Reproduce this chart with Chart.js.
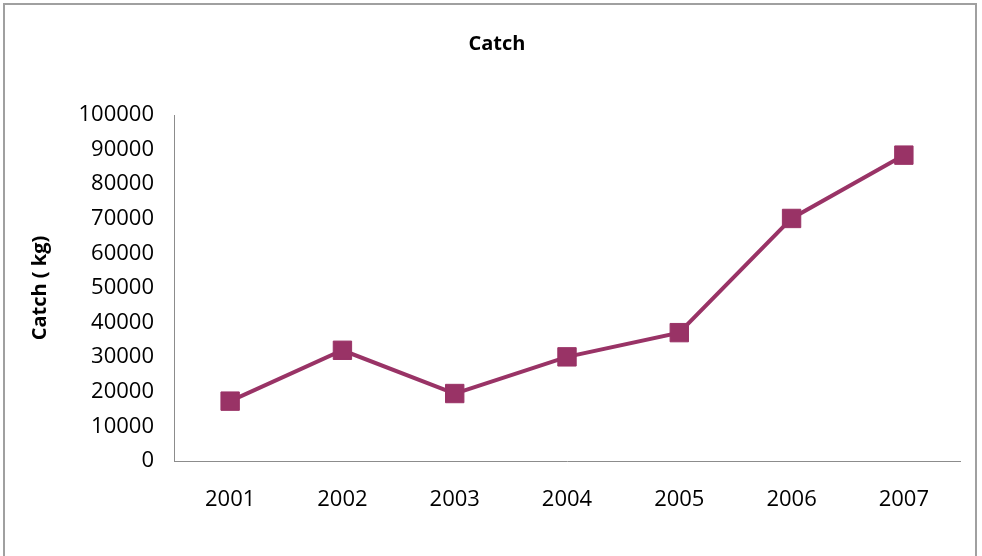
<!DOCTYPE html>
<html>
<head>
<meta charset="utf-8">
<script src="https://cdn.jsdelivr.net/npm/chart.js@4"></script>
<style>
  html, body { margin: 0; padding: 0; background: #fff; }
  #frame {
    position: absolute; left: 3px; top: 3px; width: 974px; height: 600px;
    border: 2px solid #a0a0a0; box-sizing: border-box;
  }
  #catchChart { position: absolute; left: 0; top: 0; }
</style>
</head>
<body>
<div id="frame"></div>
<canvas id="catchChart" width="982" height="556"></canvas>
<script>
const years = ['2001', '2002', '2003', '2004', '2005', '2006', '2007'];
const catchKg = [17300, 32000, 19500, 30100, 37100, 70100, 88400];
const yMin = 0;
const yMax = 100000;
const yStep = 10000;

const lineColor = '#993366';
const axisColor = '#8c8c8c';
const fontFamily = '"Open Sans", "Noto Sans", sans-serif';

const ctx = document.getElementById('catchChart').getContext('2d');

const myChart = new Chart(ctx, {
    type: 'line',
    data: {
        labels: years,
        datasets: [{
            label: 'Catch',
            data: catchKg,
            borderColor: lineColor,
            backgroundColor: lineColor,
            borderWidth: 4,
            tension: 0,
            pointStyle: 'rect',
            pointRadius: 13,
            pointBorderWidth: 1,
            pointBorderColor: lineColor,
            pointBackgroundColor: lineColor
        }]
    },
    options: {
        responsive: false,
        animation: false,
        // left padding shifts the title centre to match the original
        layout: { padding: { left: 12, right: 0, top: 0, bottom: 0 } },
        plugins: {
            legend: { display: false },
            tooltip: { enabled: false },
            title: {
                display: true,
                text: 'Catch',
                color: '#000',
                font: { family: fontFamily, size: 20, weight: 'bold', lineHeight: 1.2 },
                padding: { top: 32, bottom: 59 }
            }
        },
        scales: {
            x: {
                offset: true,
                grid: { display: false, drawTicks: false },
                border: { display: true, color: axisColor, width: 1 },
                ticks: {
                    color: '#000',
                    padding: 26,
                    font: { family: fontFamily, size: 22 }
                },
                afterFit: scale => { scale.height = 95; }
            },
            y: {
                min: yMin,
                max: yMax,
                grid: { display: false, drawTicks: false },
                border: { display: true, color: axisColor, width: 1 },
                ticks: {
                    stepSize: yStep,
                    color: '#000',
                    padding: 20,
                    font: { family: fontFamily, size: 22 },
                    callback: v => String(v)
                },
                title: {
                    display: true,
                    text: 'Catch ( kg)',
                    color: '#000',
                    font: { family: fontFamily, size: 20, weight: 'bold', lineHeight: 1.2 },
                    padding: { top: 16, bottom: 0 }
                },
                afterFit: scale => { scale.width = 162; }
            },
            // empty right-hand spacer so the plot ends where the original does
            yRight: {
                position: 'right',
                min: yMin,
                max: yMax,
                grid: { display: false, drawTicks: false },
                border: { display: false },
                ticks: { display: false },
                afterFit: scale => { scale.width = 22; }
            }
        }
    }
});
</script>
</body>
</html>
